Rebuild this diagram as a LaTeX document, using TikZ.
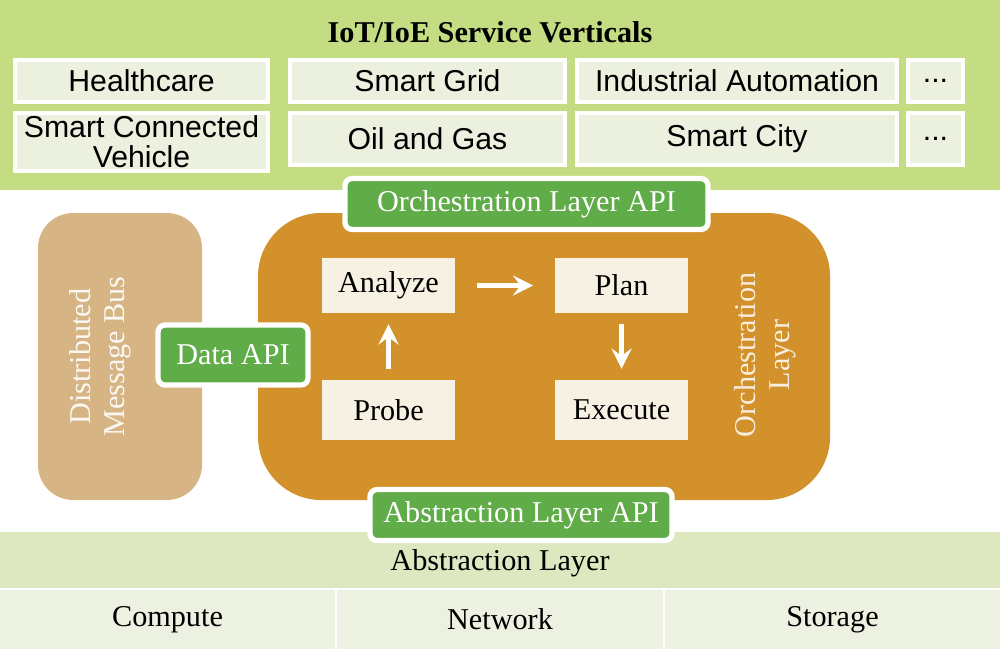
\documentclass[tikz,border=0pt]{standalone}
\usepackage{fontspec}
\setmainfont{Liberation Serif}
\setsansfont{Liberation Sans}
\usepackage{tikz}
\definecolor{vgreen}{RGB}{196,220,130}
\definecolor{vbox}{RGB}{236,240,222}
\definecolor{apigreen}{RGB}{96,172,72}
\definecolor{orch}{RGB}{210,145,42}
\definecolor{bus}{RGB}{214,180,132}
\definecolor{inner}{RGB}{246,241,226}
\definecolor{absband}{RGB}{222,232,192}
\definecolor{absrow}{RGB}{236,241,226}
\newcommand{\fs}{\fontsize{8.6}{9.6}\selectfont}
\tikzset{
  vert/.style={draw=white, line width=1pt, fill=vbox, font=\sffamily\fs, align=center, inner sep=1pt},
  api/.style={draw=white, line width=1.5pt, fill=apigreen, text=white, font=\fs, rounded corners=2pt},
  stage/.style={fill=inner, font=\fs},
  flow/.style={->, >=stealth, white, line width=1.5pt}
}
\begin{document}
\begin{tikzpicture}[x=1cm,y=1cm]
    \useasboundingbox (0,0) rectangle (10,6.49);

    % Service verticals
    \fill[vgreen] (0,4.59) rectangle (10,6.49);
    \node[font=\fs\bfseries] (title) at (4.9,6.17) {IoT/IoE Service Verticals};
    \node[vert, minimum width=2.53cm, minimum height=0.42cm] (health) at (1.415,5.68) {Healthcare};
    \node[vert, minimum width=2.75cm, minimum height=0.42cm] (grid) at (4.275,5.68) {Smart Grid};
    \node[vert, minimum width=3.2cm, minimum height=0.42cm] (auto) at (7.37,5.68) {Industrial Automation};
    \node[vert, minimum width=0.55cm, minimum height=0.42cm] (more1) at (9.355,5.68) {...};
    \node[vert, minimum width=2.53cm, minimum height=0.58cm, inner sep=0pt] (car) at (1.415,5.07) {Smart Connected\\[-1pt]Vehicle};
    \node[vert, minimum width=2.75cm, minimum height=0.52cm] (oil) at (4.275,5.10) {Oil and Gas};
    \node[vert, minimum width=3.2cm, minimum height=0.52cm] (city) at (7.37,5.10) {Smart City};
    \node[vert, minimum width=0.55cm, minimum height=0.52cm] (more2) at (9.355,5.10) {...};

    % Message bus and orchestration layer
    \node[fill=bus, rounded corners=10pt, minimum width=1.64cm, minimum height=2.87cm] (busbox) at (1.2,2.925) {};
    \node[rotate=90, text=white!90!bus, font=\fs, align=center] (buslbl) at (1.0,2.925) {Distributed\\Message Bus};
    \node[fill=orch, rounded corners=18pt, minimum width=5.72cm, minimum height=2.87cm] (orchbox) at (5.44,2.925) {};
    \node[rotate=90, text=white!85!orch, font=\fs, align=center] (orchlbl) at (7.65,2.94) {Orchestration\\Layer};

    \node[stage, minimum width=1.33cm, minimum height=0.55cm] (analyze) at (3.885,3.635) {Analyze};
    \node[stage, minimum width=1.33cm, minimum height=0.55cm] (plan) at (6.215,3.635) {Plan};
    \node[stage, minimum width=1.33cm, minimum height=0.6cm] (probe) at (3.885,2.39) {Probe};
    \node[stage, minimum width=1.33cm, minimum height=0.6cm] (execute) at (6.215,2.39) {Execute};
    \draw[flow] ([xshift=6pt]analyze.east) -- ([xshift=-6pt]plan.west);
    \draw[flow] ([yshift=-3pt]plan.south) -- ([yshift=3pt]execute.north);
    \draw[flow] ([yshift=3pt]probe.north) -- ([yshift=-3pt]analyze.south);

    \node[api, minimum width=3.63cm, minimum height=0.48cm] (orchapi) at (5.265,4.45) {Orchestration Layer API};
    \node[api, minimum width=1.5cm, minimum height=0.6cm] (dataapi) at (2.33,2.94) {Data API};

    % Abstraction layer
    \fill[absband] (0,0.61) rectangle (10,1.17);
    \node[font=\fs] (abslbl) at (5.0,0.86) {Abstraction Layer};
    \node[fill=absrow, minimum width=3.35cm, minimum height=0.59cm, font=\fs] (compute) at (1.675,0.295) {Compute};
    \node[fill=absrow, minimum width=3.26cm, minimum height=0.59cm, font=\fs] (network) at (5.0,0.295) {Network};
    \node[fill=absrow, minimum width=3.35cm, minimum height=0.59cm, font=\fs] (storage) at (8.325,0.295) {Storage};
    \node[api, minimum width=3.02cm, minimum height=0.5cm] (absapi) at (5.21,1.34) {Abstraction Layer API};
\end{tikzpicture}
\end{document}
